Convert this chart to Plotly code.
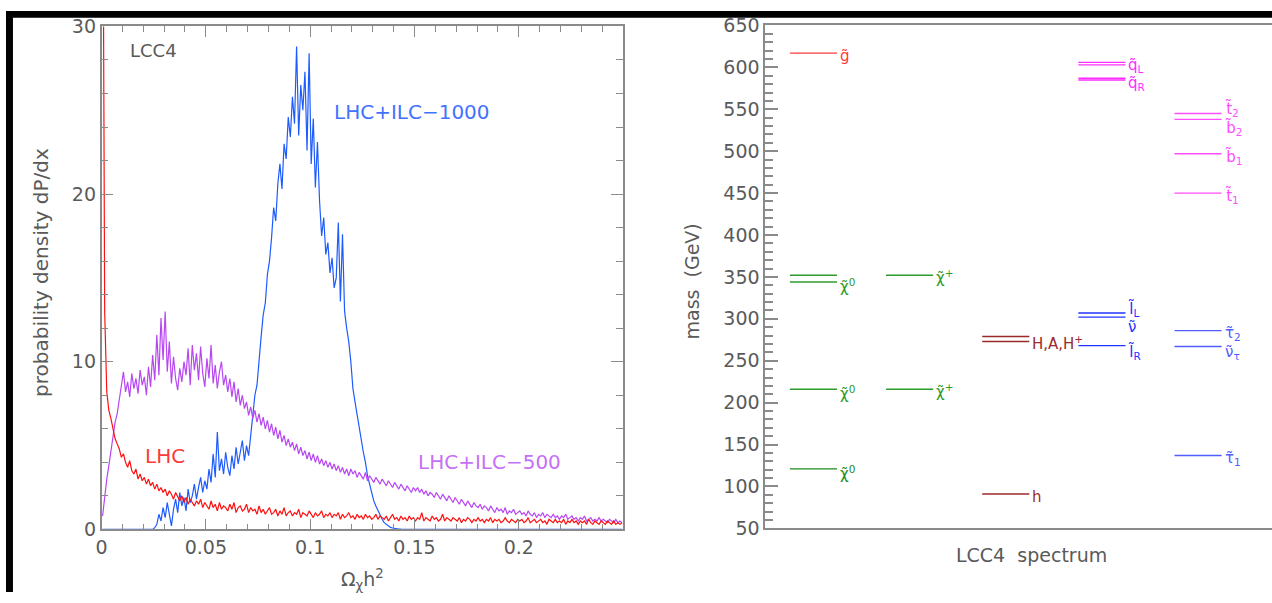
import plotly.graph_objects as go

W, H = 1272, 603

# ---------------------------------------------------------------- relic density
# histogram bin centres, bin width 0.001 in Omega h^2
BIN_CENTERS = [round(0.0005 + 0.001 * i, 4) for i in range(250)]

LHC = [
    45, 13, 8.2, 7.1, 6.6, 6.0, 5.4, 5.1, 4.8, 4.3,
    4.5, 4.0, 3.7, 4.1, 3.5, 3.3, 3.6, 3.0, 3.3, 2.9,
    3.1, 2.7, 3.0, 2.6, 2.8, 2.4, 2.7, 2.3, 2.5, 2.2,
    2.4, 2.0, 2.3, 2.1, 1.8, 2.2, 1.9, 1.7, 2.0, 1.6,
    1.9, 1.5, 1.8, 1.6, 1.4, 1.7, 1.5, 1.8, 1.3, 1.6,
    1.4, 1.2, 1.7, 1.3, 1.5, 1.1, 1.6, 1.2, 1.4, 1.3,
    1.1, 1.5, 1.2, 1.6, 1.0, 1.3, 1.4, 1.1, 1.2, 1.5,
    1.0, 1.3, 1.1, 1.2, 0.9, 1.4, 1.0, 1.2, 0.9, 1.1,
    1.3, 0.9, 1.0, 1.2, 0.8, 1.1, 0.9, 1.3, 0.8, 1.0,
    1.1, 0.8, 1.0, 0.9, 1.2, 0.7, 1.0, 0.9, 0.8, 1.1,
    0.9, 0.7, 1.0, 0.8, 0.9, 1.1, 0.7, 0.9, 0.8, 1.0,
    0.7, 0.9, 0.8, 1.0, 0.6, 0.9, 0.7, 0.8, 1.0, 0.7,
    0.8, 0.6, 0.9, 0.7, 0.8, 0.6, 0.9, 0.7, 0.8, 0.6,
    0.7, 0.9, 0.6, 0.8, 0.7, 0.6, 0.8, 0.5, 0.7, 0.9,
    0.6, 0.7, 0.5, 0.8, 0.6, 0.7, 0.5, 0.8, 0.6, 0.7,
    0.5, 0.7, 0.6, 1.0, 0.5, 0.7, 0.6, 0.5, 0.8, 0.6,
    0.7, 0.5, 0.6, 0.9, 0.5, 0.7, 0.6, 0.5, 0.7, 0.6,
    0.5, 0.7, 0.4, 0.6, 0.5, 0.7, 0.6, 0.4, 0.6, 0.5,
    0.7, 0.5, 0.6, 0.4, 0.6, 0.5, 0.7, 0.4, 0.6, 0.5,
    0.6, 0.4, 0.5, 0.7, 0.5, 0.4, 0.6, 0.5, 0.4, 0.6,
    0.5, 0.6, 0.4, 0.5, 0.7, 0.4, 0.5, 0.6, 0.4, 0.5,
    0.6, 0.4, 0.5, 0.3, 0.6, 0.5, 0.4, 0.6, 0.4, 0.5,
    0.4, 0.6, 0.3, 0.5, 0.4, 0.6, 0.4, 0.5, 0.3, 0.5,
    0.4, 0.5, 0.3, 0.6, 0.4, 0.3, 0.5, 0.4, 0.3, 0.5,
    0.4, 0.3, 0.5, 0.4, 0.3, 0.5, 0.3, 0.4, 0.3, 0.4,
]

LHC_ILC500 = [
    0.8, 2.0, 3.0, 3.8, 4.6, 5.5, 6.4, 6.9, 7.8, 8.6,
    9.4, 8.2, 8.8, 7.9, 9.3, 8.4, 9.0, 8.1, 9.5, 8.6,
    9.1, 8.0, 9.7, 8.5, 10.4, 8.9, 11.6, 9.2, 12.6, 10.1,
    13.0, 9.4, 11.2, 8.7, 10.3, 9.0, 8.3, 9.6, 8.8, 10.0,
    9.2, 10.8, 8.6, 11.0, 9.5, 10.5, 8.9, 10.9, 9.3, 8.5,
    10.2, 9.0, 11.0, 8.7, 9.8, 8.4, 9.4, 10.0, 8.6, 9.2,
    8.2, 9.0, 7.9, 8.8, 7.6, 8.4, 7.4, 8.0, 7.2, 7.6,
    6.8, 7.3, 6.6, 7.1, 6.4, 6.9, 6.2, 6.7, 6.0, 6.5,
    5.8, 6.3, 5.6, 6.1, 5.4, 5.9, 5.2, 5.6, 5.0, 5.4,
    4.9, 5.2, 4.7, 5.1, 4.5, 4.9, 4.4, 4.7, 4.2, 4.6,
    4.1, 4.5, 4.0, 4.4, 3.9, 4.2, 3.8, 4.1, 3.7, 4.0,
    3.6, 3.9, 3.5, 3.8, 3.4, 3.7, 3.3, 3.6, 3.2, 3.6,
    3.3, 3.5, 3.1, 3.4, 3.2, 3.0, 3.4, 2.9, 3.2, 3.0,
    2.8, 3.1, 2.9, 2.7, 3.0, 2.8, 2.6, 2.9, 2.7, 2.5,
    2.8, 2.6, 2.4, 2.7, 2.5, 2.3, 2.6, 2.4, 2.2, 2.5,
    2.3, 2.5, 2.2, 2.4, 2.1, 2.3, 2.0, 2.2, 2.1, 1.9,
    2.2, 2.0, 1.8, 2.1, 1.9, 1.7, 2.0, 1.8, 1.6, 1.9,
    1.7, 1.5, 1.8, 1.6, 1.4, 1.7, 1.5, 1.3, 1.6, 1.4,
    1.3, 1.5, 1.2, 1.4, 1.3, 1.1, 1.4, 1.2, 1.0, 1.3,
    1.1, 1.2, 1.0, 1.3, 0.9, 1.1, 1.0, 1.2, 0.9, 1.0,
    1.1, 0.9, 1.0, 0.8, 1.1, 0.9, 0.8, 1.0, 0.7, 0.9,
    0.8, 1.0, 0.7, 0.9, 0.8, 0.7, 0.9, 0.7, 0.8, 0.6,
    0.8, 0.7, 0.9, 0.6, 0.7, 0.8, 0.6, 0.7, 0.5, 0.7,
    0.6, 0.8, 0.5, 0.6, 0.7, 0.5, 0.6, 0.5, 0.7, 0.5,
    0.6, 0.5, 0.4, 0.6, 0.5, 0.4, 0.6, 0.4, 0.5, 0.4,
]

LHC_ILC1000 = [
    0, 0, 0, 0, 0, 0, 0, 0, 0, 0,
    0, 0, 0, 0, 0, 0, 0, 0, 0, 0,
    0, 0, 0, 0, 0, 0.1, 0.3, 0.9, 0.5, 1.3,
    0.7, 1.6, 0.9, 0.2, 1.2, 1.8, 1.0, 2.2, 1.4, 1.9,
    1.1, 2.4, 1.6, 2.0, 2.7, 1.8, 2.5, 3.1, 2.2, 2.9,
    2.4, 3.6, 2.8, 4.5, 3.1, 5.8, 3.5, 4.2, 3.3, 4.6,
    3.7, 3.2, 4.4, 3.6, 4.9, 3.9, 4.6, 5.3, 4.1, 5.0,
    4.4, 5.6, 6.4, 8.0, 8.6, 10.2, 11.5, 12.8, 13.5, 15.2,
    16.0, 17.4, 19.2, 18.4, 20.6, 21.8, 20.3, 23.0, 22.1, 24.6,
    23.4, 25.8, 24.2, 28.8, 23.5, 26.5, 25.0, 27.3, 22.6, 28.4,
    21.8, 24.5, 20.4, 23.1, 19.6, 17.5, 18.6, 16.4, 17.1, 15.3,
    16.2, 14.4, 15.0, 18.3, 13.6, 17.6, 13.0, 12.0, 11.2, 10.0,
    8.4, 7.6, 6.8, 6.1, 5.2, 4.6, 4.0, 3.2, 2.7, 2.2,
    1.7, 1.4, 1.1, 0.8, 0.6, 0.4, 0.3, 0.2, 0.12, 0.08,
    0.05, 0.05, 0.02, 0.01, 0, 0, 0, 0, 0, 0,
    0, 0, 0, 0, 0, 0, 0, 0, 0, 0,
    0, 0, 0, 0, 0, 0, 0, 0, 0, 0,
    0, 0, 0, 0, 0, 0, 0, 0, 0, 0,
    0, 0, 0, 0, 0, 0, 0, 0, 0, 0,
    0, 0, 0, 0, 0, 0, 0, 0, 0, 0,
    0, 0, 0, 0, 0, 0, 0, 0, 0, 0,
    0, 0, 0, 0, 0, 0, 0, 0, 0, 0,
    0, 0, 0, 0, 0, 0, 0, 0, 0, 0,
    0, 0, 0, 0, 0, 0, 0, 0, 0, 0,
    0, 0, 0, 0, 0, 0, 0, 0, 0, 0,
]

X_TICKS = [0, 0.05, 0.1, 0.15, 0.2]
X_TICK_TEXT = ["0", "0.05", "0.1", "0.15", "0.2"]

# ---------------------------------------------------------------- mass spectrum
SPEC_LABELS = [
    "g̃", "q̃<sub>L</sub>", "q̃<sub>R</sub>",
    "t̃<sub>2</sub>", "b̃<sub>2</sub>", "b̃<sub>1</sub>", "t̃<sub>1</sub>",
    "χ̃<sup>0</sup>", "χ̃<sup>0</sup>", "χ̃<sup>0</sup>",
    "χ̃<sup>+</sup>", "χ̃<sup>+</sup>",
    "H,A,H<sup>+</sup>", "h",
    "l̃<sub>L</sub>", "ν̃", "l̃<sub>R</sub>",
    "τ̃<sub>2</sub>", "ν̃<sub>τ</sub>", "τ̃<sub>1</sub>",
]
SPEC_MASSES = [
    [617], [606, 603], [587, 585],
    [545], [538], [497], [450],
    [352, 344], [216], [121],
    [352], [216],
    [279, 273], [91],
    [307], [302], [268],
    [286], [267], [137],
]
SPEC_COLUMN = [
    1, 4, 4,
    5, 5, 5, 5,
    1, 1, 1,
    2, 2,
    3, 3,
    4, 4, 4,
    5, 5, 5,
]
SPEC_COLORS = [
    "#ff3b3b", "#ff2bff", "#ff2bff",
    "#ff4dff", "#ff4dff", "#ff4dff", "#ff4dff",
    "#2e9a2e", "#2e9a2e", "#1f8a1f",
    "#2e9a2e", "#2e9a2e",
    "#9b2a2a", "#9b2a2a",
    "#2233ff", "#2233ff", "#2233ff",
    "#4f5cff", "#4f5cff", "#4f5cff",
]
# vertical nudges (px) keeping neighbouring labels apart
LABEL_NUDGE = [
    -3, -1, -4,
    4, -9, -3, -3,
    -4, -4, -4,
    -2, -2,
    -2, -3,
    4, -10, -6,
    -3, -6, -3,
]

COLUMN_POS = {1: 0.5, 2: 1.5, 3: 2.5, 4: 3.5, 5: 4.5}
HALF_WIDTH = 0.245
COLUMN_STEP_PX = 96.6

FONT = "DejaVu Sans"
TXT = "#5a5a5a"
AXIS = "#8a8a8a"

RED = "#ff1010"
PURPLE = "#b847f2"
BLUE = "#1e5bff"


def fx(px):
    return px / W


def fy(py):
    return 1 - py / H


fig = go.Figure()

fig.add_trace(go.Scatter(x=BIN_CENTERS, y=LHC_ILC1000, mode="lines",
                         line=dict(color=BLUE, width=1.2),
                         xaxis="x", yaxis="y", showlegend=False))
fig.add_trace(go.Scatter(x=BIN_CENTERS, y=LHC_ILC500, mode="lines",
                         line=dict(color=PURPLE, width=1.2),
                         xaxis="x", yaxis="y", showlegend=False))
fig.add_trace(go.Scatter(x=BIN_CENTERS, y=LHC, mode="lines",
                         line=dict(color=RED, width=1.2),
                         xaxis="x", yaxis="y", showlegend=False))

annotations = []
for text, x, y, color, size in [
    ("LCC4", 0.0129, 28.55, TXT, 18),
    ("LHC+ILC−1000", 0.1107, 24.9, "#4272ff", 20),
    ("LHC", 0.0200, 4.4, "#ff3a3a", 20),
    ("LHC+ILC−500", 0.1508, 4.0, "#c670f5", 20),
]:
    annotations.append(dict(x=x, y=y, xref="x", yref="y", text=text,
                            showarrow=False, xanchor="left", yanchor="middle",
                            font=dict(family=FONT, size=size, color=color)))

# spectrum levels
for label, masses, col, color, nudge in zip(SPEC_LABELS, SPEC_MASSES,
                                            SPEC_COLUMN, SPEC_COLORS, LABEL_NUDGE):
    c = COLUMN_POS[col]
    for m in masses:
        fig.add_trace(go.Scatter(x=[c - HALF_WIDTH, c + HALF_WIDTH], y=[m, m],
                                 mode="lines", line=dict(color=color, width=1.4),
                                 xaxis="x2", yaxis="y2", showlegend=False,
                                 hoverinfo="skip"))
    annotations.append(dict(x=c + HALF_WIDTH, y=min(masses), xref="x2", yref="y2",
                            text=label, showarrow=False, xanchor="left",
                            yanchor="middle", xshift=1, yshift=nudge,
                            font=dict(family=FONT, size=15, color=color)))

# axis titles
for text, px, py, angle, size in [
    ("probability density dP/dx", 35, 271, -90, 20),
    ("Ω<sub>χ</sub>h<sup>2</sup>", 358, 590, 0, 19),
    ("mass  (GeV)", 689, 281, -90, 19),
    ("LCC4  spectrum", 1030, 565, 0, 19),
]:
    annotations.append(dict(x=fx(px), y=fy(py), xref="paper", yref="paper",
                            text=text, textangle=angle, showarrow=False,
                            xanchor="center", yanchor="middle",
                            font=dict(family=FONT, size=size, color=TXT)))

right_span = (W - 763) / COLUMN_STEP_PX

fig.update_layout(
    width=W, height=H,
    margin=dict(l=0, r=0, t=0, b=0),
    paper_bgcolor="white", plot_bgcolor="white",
    showlegend=False,
    font=dict(family=FONT, size=19, color=TXT),
    xaxis=dict(
        domain=[fx(96), fx(620)], range=[0, 0.25],
        tickvals=X_TICKS, ticktext=X_TICK_TEXT,
        ticks="inside", ticklen=11, tickwidth=1.2, tickcolor=AXIS,
        minor=dict(dtick=0.01, ticks="inside", ticklen=6, tickcolor=AXIS, tickwidth=1.2),
        showline=True, linecolor=AXIS, linewidth=1.5, mirror="allticks",
        showgrid=False, zeroline=False,
        tickfont=dict(family=FONT, size=19, color=TXT),
        anchor="y",
    ),
    yaxis=dict(
        domain=[fy(538), fy(16)], range=[0, 30],
        dtick=10, ticks="inside", ticklen=12, tickwidth=1.2, tickcolor=AXIS,
        minor=dict(dtick=2, ticks="inside", ticklen=7, tickcolor=AXIS, tickwidth=1.2),
        showline=True, linecolor=AXIS, linewidth=1.5, mirror="allticks",
        showgrid=False, zeroline=False,
        tickfont=dict(family=FONT, size=19, color=TXT),
        anchor="x",
    ),
    xaxis2=dict(
        domain=[fx(763), 1.0], range=[0, right_span],
        showticklabels=False, ticks="",
        showline=True, linecolor=AXIS, linewidth=2, mirror=True,
        showgrid=False, zeroline=False, anchor="y2",
    ),
    yaxis2=dict(
        domain=[fy(537), fy(15)], range=[50, 650],
        dtick=50, ticks="inside", ticklen=13, tickwidth=1.5, tickcolor=AXIS,
        minor=dict(dtick=10, ticks="inside", ticklen=8, tickcolor=AXIS, tickwidth=1.5),
        showline=True, linecolor=AXIS, linewidth=2,
        showgrid=False, zeroline=False,
        tickfont=dict(family=FONT, size=19, color=TXT),
        anchor="x2",
    ),
    annotations=annotations,
    shapes=[
        dict(type="rect", xref="paper", yref="paper", x0=0, x1=1,
             y0=fy(7), y1=1, fillcolor="black", line=dict(width=0), layer="above"),
        dict(type="rect", xref="paper", yref="paper", x0=0, x1=fx(7),
             y0=0, y1=1, fillcolor="black", line=dict(width=0), layer="above"),
    ],
)

fig.write_html("out.html")
